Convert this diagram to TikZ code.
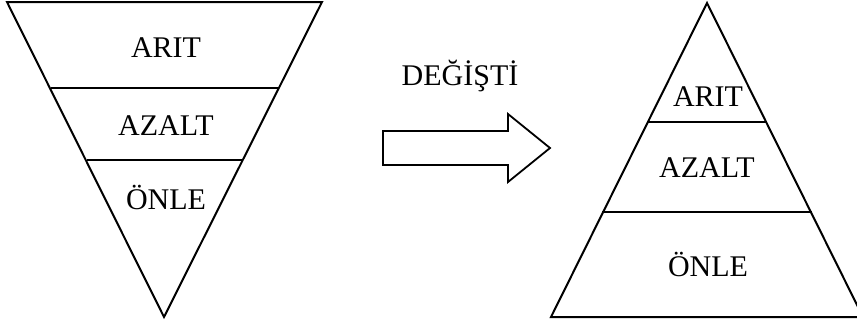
\documentclass[tikz,border=0pt]{standalone}
\usepackage{fontspec}
\setmainfont{Liberation Serif}
\begin{document}
\begin{tikzpicture}[x=1pt,y=-1pt,
  shape line/.style={draw=black,line width=2pt,line join=miter},
  layer line/.style={draw=black,line width=1.8pt},
  label text/.style={font=\fontsize{30}{35}\selectfont,inner sep=0pt,anchor=center}]
\useasboundingbox (0,0) rectangle (857,325);
\clip (0,0) rectangle (857,325);
% left inverted triangle
\draw[shape line] (7,2) -- (322,2) -- (164,317) -- cycle;
\draw[layer line] (51,88) -- (278,88);
\draw[layer line] (87,160) -- (242,160);
\node[label text] (l1) at (166,48) {ARIT};
\node[label text] (l2) at (166,126) {AZALT};
\node[label text] (l3) at (166,197) {ÖNLE};
% arrow
\draw[shape line,line width=1.8pt] (383,131) -- (508,131) -- (508,114) -- (550,148) -- (508,182) -- (508,165) -- (383,165) -- cycle;
\node[label text] (chg) at (460,76) {DEĞİŞTİ};
% right triangle
\draw[shape line] (707,3) -- (551,317) -- (863,317) -- cycle;
\draw[layer line] (647,122) -- (767,122);
\draw[layer line] (602,212) -- (812,212);
\node[label text] (r1) at (708,97) {ARIT};
\node[label text] (r2) at (707,168) {AZALT};
\node[label text] (r3) at (708,264) {ÖNLE};
\end{tikzpicture}
\end{document}
